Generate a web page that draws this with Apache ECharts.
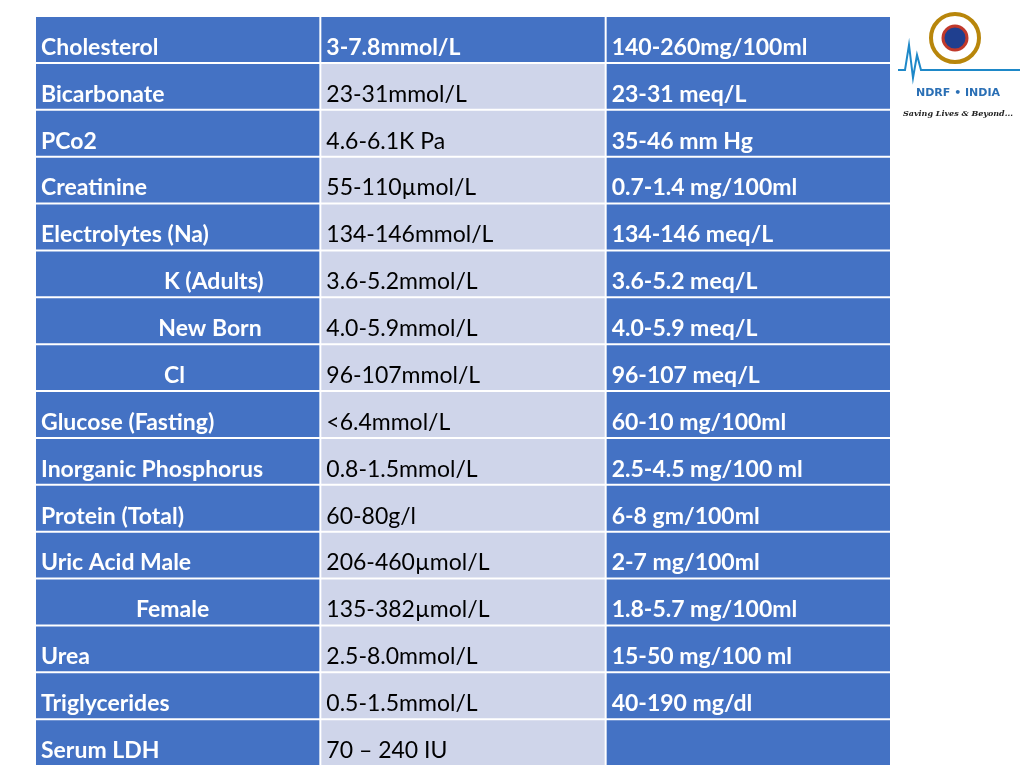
<!DOCTYPE html>
<html><head><meta charset="utf-8">
<script src="https://cdn.jsdelivr.net/npm/echarts@6/dist/echarts.min.js"></script>
<style>html,body{margin:0;padding:0;background:#fff}#c{width:1024px;height:768px}</style>
</head><body><div id="c"></div>
<script>
const tests = ["Cholesterol","Bicarbonate","PCo2","Creatinine","Electrolytes (Na)","                      K (Adults)","                     New Born","                      Cl","Glucose (Fasting)","Inorganic Phosphorus","Protein (Total)","Uric Acid Male","                 Female","Urea","Triglycerides","Serum LDH"];
const siUnits = ["3-7.8mmol/L","23-31mmol/L","4.6-6.1K Pa","55-110µmol/L","134-146mmol/L","3.6-5.2mmol/L","4.0-5.9mmol/L","96-107mmol/L","<6.4mmol/L","0.8-1.5mmol/L","60-80g/l","206-460µmol/L","135-382µmol/L","2.5-8.0mmol/L","0.5-1.5mmol/L","70 – 240 IU"];
const convUnits = ["140-260mg/100ml","23-31 meq/L","35-46 mm Hg","0.7-1.4 mg/100ml","134-146 meq/L","3.6-5.2 meq/L","4.0-5.9 meq/L","96-107 meq/L","60-10 mg/100ml","2.5-4.5 mg/100 ml","6-8 gm/100ml","2-7 mg/100ml","1.8-5.7 mg/100ml","15-50 mg/100 ml","40-190 mg/dl",""];
const columns = [tests, siUnits, convUnits];

const data = [];
columns.forEach((col, c) => col.forEach((t, r) => data.push([c, r, t])));

const chart = echarts.init(document.getElementById('c'));
chart.setOption({
  animation: false,
  grid: {left: 35, right: 133, top: 16, bottom: 2},
  xAxis: {type: 'value', min: 0, max: 3, show: false},
  yAxis: {type: 'value', min: 0, max: 16, inverse: true, show: false},
  series: [{
    type: 'custom',
    data: data,
    renderItem: function (params, api) {
      const c = api.value(0), r = api.value(1);
      const p0 = api.coord([c, r]), p1 = api.coord([c + 1, r + 1]);
      const light = (c === 1 && r > 0);
      return {
        type: 'group',
        children: [
          {type: 'rect', shape: {x: p0[0] + 1, y: p0[1] + 1, width: p1[0] - p0[0] - 2, height: p1[1] - p0[1] - 2},
           style: {fill: light ? '#CFD5EA' : '#4472C4'}},
          {type: 'text', style: {x: p0[0] + 6, y: (p0[1] + p1[1]) / 2 + 8, text: data[params.dataIndex][2],
            fill: light ? '#000' : '#fff', font: (light ? 'normal ' : 'bold ') + '23px Lato, "Open Sans", sans-serif',
            verticalAlign: 'middle', align: 'left'}}
        ]
      };
    }
  }],
  graphic: [
    {type: 'circle', shape: {cx: 955, cy: 38, r: 24}, style: {fill: '#fff', stroke: '#B8860B', lineWidth: 4}},
    {type: 'circle', shape: {cx: 955, cy: 38, r: 12}, style: {fill: '#1F3F8F', stroke: '#C0392B', lineWidth: 3}},
    {type: 'polyline', shape: {points: [[898,70],[905,70],[909,45],[913,78],[917,55],[921,70],[1020,70]]}, style: {stroke: '#1E88C8', lineWidth: 2, fill: null}},
    {type: 'text', style: {x: 958, y: 88, text: 'NDRF • INDIA', align: 'center', fill: '#2A6FB5', font: 'bold 11px "DejaVu Sans", sans-serif'}},
    {type: 'text', style: {x: 958, y: 110, text: 'Saving Lives & Beyond...', align: 'center', fill: '#222', font: 'italic bold 8px "DejaVu Serif", serif'}}
  ]
});
</script></body></html>
